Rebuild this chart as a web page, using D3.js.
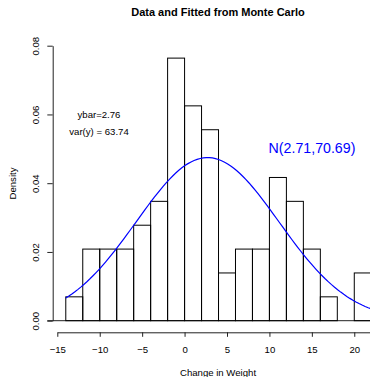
<!DOCTYPE html>
<html>
<head>
<meta charset="utf-8">
<script src="https://cdn.jsdelivr.net/npm/d3@7"></script>
<style>
  html, body { margin: 0; padding: 0; background: #fff; }
  svg { display: block; font-family: "Liberation Sans", Arial, Helvetica, sans-serif; }
</style>
</head>
<body>
<svg id="chart" width="370" height="377"></svg>
<script>
// histogram of change in weight (bin width 2), n = 72
const breaks = [-14, -12, -10, -8, -6, -4, -2, 0, 2, 4, 6, 8, 10, 12, 14, 16, 18, 20, 22];
const counts = [1, 3, 3, 3, 4, 5, 11, 9, 8, 2, 3, 3, 6, 5, 3, 1, 0, 2];

// fitted normal N(mean, variance)
const fitMean = 2.71;
const fitVar = 70.69;

const xTicks = [-15, -10, -5, 0, 5, 10, 15, 20];
const yTicks = [0, 0.02, 0.04, 0.06, 0.08];

const title = 'Data and Fitted from Monte Carlo';
const xLabel = 'Change in Weight';
const yLabel = 'Density';
const notes = ['ybar=2.76', 'var(y) = 63.74'];
const fitLabel = 'N(2.71,70.69)';

const n = d3.sum(counts);
const bins = counts.map((c, i) => ({
  x0: breaks[i],
  x1: breaks[i + 1],
  density: c / (n * (breaks[i + 1] - breaks[i]))
}));

const svg = d3.select('#chart');

// axis runs on past the right edge of the picture
const x = d3.scaleLinear().domain([-15, 25]).range([57.3, 396.7]);
const y = d3.scaleLinear().domain([0, 0.08]).range([320.7, 45.7]);

// title
svg.append('text')
  .attr('x', 218).attr('y', 16)
  .attr('text-anchor', 'middle')
  .attr('font-size', 11).attr('font-weight', 'bold')
  .text(title);

// baseline
svg.append('line')
  .attr('x1', 47.3).attr('x2', 370)
  .attr('y1', y(0)).attr('y2', y(0))
  .attr('stroke', '#222').attr('stroke-width', 1);

// bars
svg.append('g')
  .selectAll('rect')
  .data(bins.filter(d => d.density > 0))
  .join('rect')
    .attr('x', d => x(d.x0))
    .attr('y', d => y(d.density))
    .attr('width', d => x(d.x1) - x(d.x0))
    .attr('height', d => y(0) - y(d.density))
    .attr('fill', 'none')
    .attr('stroke', '#000')
    .attr('stroke-width', 1);

// fitted normal density
const sd = Math.sqrt(fitVar);
const dnorm = v => Math.exp(-0.5 * ((v - fitMean) / sd) ** 2) / (sd * Math.sqrt(2 * Math.PI));
const curvePts = d3.range(101).map(i => {
  const v = breaks[0] + i * (breaks[breaks.length - 1] - breaks[0]) / 100;
  return [v, dnorm(v)];
});
svg.append('path')
  .datum(curvePts)
  .attr('d', d3.line().x(d => x(d[0])).y(d => y(d[1])))
  .attr('fill', 'none')
  .attr('stroke', '#0000ff')
  .attr('stroke-width', 1.2);

// x axis
const xAxis = svg.append('g')
  .attr('transform', 'translate(0,332.3)')
  .call(d3.axisBottom(x).tickValues(xTicks).tickSize(4.5).tickSizeOuter(0)
    .tickFormat(d => d < 0 ? '\u2212' + Math.abs(d) : d));
xAxis.select('.domain').attr('stroke', '#222');
xAxis.selectAll('.tick line').attr('stroke', '#222');
xAxis.selectAll('.tick text')
  .attr('y', 0).attr('dy', null)
  .attr('transform', 'translate(0,21)')
  .attr('font-size', 9.6).attr('font-family', null).attr('fill', '#000');

// y axis
const yAxis = svg.append('g')
  .attr('transform', 'translate(52.7,0)')
  .call(d3.axisLeft(y).tickValues(yTicks).tickSize(5.4).tickSizeOuter(0)
    .tickFormat(d3.format('.2f')));
yAxis.select('.domain').attr('stroke', '#222');
yAxis.selectAll('.tick line').attr('stroke', '#222');
yAxis.selectAll('.tick text')
  .attr('x', null).attr('dy', null)
  .attr('transform', 'translate(-13.4,0) rotate(-90)')
  .attr('text-anchor', 'middle')
  .attr('font-size', 9.6).attr('font-family', null).attr('fill', '#000');

// axis labels
svg.append('text')
  .attr('x', 218).attr('y', 376)
  .attr('text-anchor', 'middle')
  .attr('font-size', 9.6)
  .text(xLabel);
svg.append('text')
  .attr('transform', 'translate(16,183.5) rotate(-90)')
  .attr('text-anchor', 'middle')
  .attr('font-size', 9.6)
  .text(yLabel);

// annotations
svg.append('g')
  .selectAll('text')
  .data(notes)
  .join('text')
    .attr('x', 99)
    .attr('y', (d, i) => 117.5 + i * 17.7)
    .attr('text-anchor', 'middle')
    .attr('font-size', 9.6)
    .text(d => d);

svg.append('text')
  .attr('x', 312).attr('y', 152.5)
  .attr('text-anchor', 'middle')
  .attr('font-size', 14.2)
  .attr('fill', '#0000ff')
  .text(fitLabel);
</script>
</body>
</html>
